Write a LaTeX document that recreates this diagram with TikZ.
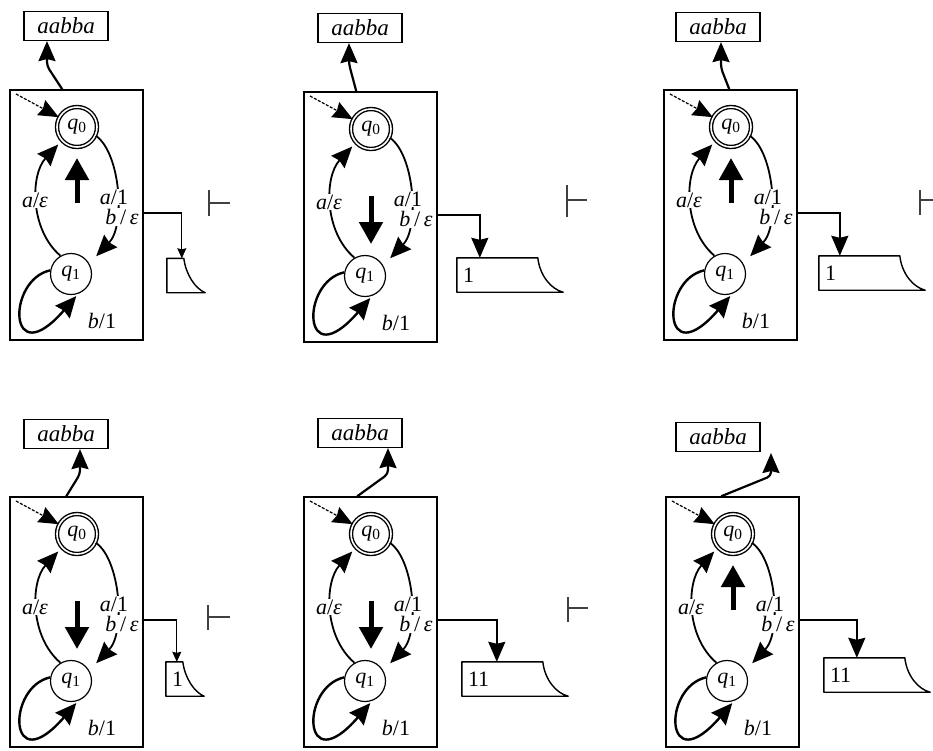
\documentclass[tikz,border=0pt]{standalone}
\usepackage{fontspec}
\setmainfont{Liberation Serif}
\usetikzlibrary{arrows.meta,calc}
\newcommand\labfont{\fontsize{22}{24}\selectfont}
\newcommand\infont{\fontsize{23}{25}\selectfont}
\newcommand\tapefont{\fontsize{22}{24}\selectfont}
\tikzset{
  machine/.style={draw, line width=1.5pt, minimum width=133pt, minimum height=250pt, inner sep=0pt},
  acc/.style={circle, draw, double, double distance=1.6pt, line width=1.4pt, minimum size=40pt, inner sep=0pt, font=\labfont},
  st/.style={circle, draw, line width=1.2pt, minimum size=41pt, inner sep=0pt, font=\labfont},
  tr/.style={line width=1.8pt, -{Stealth[length=21pt,width=18pt,inset=2pt]}},
  looparr/.style={line width=2.4pt, -{Stealth[length=21pt,width=19pt,inset=2pt]}},
  initarr/.style={line width=1.2pt, dash pattern=on 3pt off 1.5pt, -{Stealth[length=20pt,width=17pt,inset=2pt]}},
  bighead/.style={line width=5pt, -{Triangle[length=22pt,width=23pt]}},
  inarr/.style={line width=2.2pt, rounded corners=4pt, -{Stealth[length=20pt,width=17pt,inset=2pt]}},
  outthick/.style={line width=1.8pt, -{Stealth[length=20pt,width=17pt,inset=2pt]}},
  outthin/.style={line width=1.1pt, -{Stealth[length=10pt,width=9pt,inset=1pt]}},
  lbl/.style={fill=white, inner sep=1pt, font=\labfont},
  inbox/.style={draw, line width=1.2pt, minimum width=84pt, minimum height=29pt, inner sep=1pt, font=\infont},
  tapebox/.style={minimum height=34pt, inner xsep=6pt, inner ysep=0pt, text width=#1, font=\tapefont},
  tapeline/.style={line width=1.4pt, line join=round},
  turn/.style={line width=1.4pt, black!75}
}
% core automaton: #1 prefix, #2 x, #3 y, #4 big arrow start y, #5 big arrow end y
\newcommand\fsm[5]{%
\begin{scope}[shift={(#2,#3)}]
 \node[machine] (#1m) at (66.5,125) {};
 \node[acc] (#1q0) at (67,37) {\textit{q}\textsubscript{0}};
 \node[st] (#1q1) at (61,184) {\textit{q}\textsubscript{1}};
 \coordinate (#1i) at (6,4);
 \draw[initarr] (#1i) -- (#1q0);
 \draw[tr, shorten >=5pt] (#1q1.120) .. controls (20,140) and (20,85) .. (#1q0.222);
 \draw[tr, shorten >=10pt] (#1q0.-25) .. controls (110,62) and (116,135) .. (#1q1.30);
 \draw[looparr, shorten >=3pt] (#1q1.170) .. controls (-4,190) and (-2,285) .. (#1q1.-70);
 \node[lbl] (#1la) at (25,110) {\textit{a}/\textit{ε}};
 \node[lbl] (#1lb) at (104,107) {\textit{a}/1};
 \node[lbl] (#1lc) at (112,127) {\textit{b}\,/\,\textit{ε}};
 \node[lbl] (#1ld) at (92,231) {\textit{b}/1};
 \coordinate (#1hs) at (67,#4);
 \coordinate (#1he) at (67,#5);
 \draw[bighead] (#1hs) -- (#1he);
 \coordinate (#1o) at (133,123);
\end{scope}}
\newcommand\narrowtape[1]{\draw[tapeline] (#1.north west) -- ++(17,0) .. controls +(2,16) and +(-10,-4) .. (#1.south east) -- (#1.south west) -- cycle;}
\newcommand\widetape[1]{\draw[tapeline] (#1.north west) -- ++(81,0) .. controls +(2,18) and +(-12,-3) .. (#1.south east) -- (#1.south west) -- cycle;}
\newcommand\turnst[5]{\draw[turn] (#1,#2) -- (#1,#3); \draw[turn] (#1,#4) -- (#5,#4);}
\begin{document}
\begin{tikzpicture}[x=1pt,y=-1pt]
\useasboundingbox (0,0) rectangle (933,750);
% ---------- panel 1
\fsm{a}{10}{90}{113}{68}
\node[inbox] (ain) at (66,26) {\textit{aabba}};
\coordinate (ab) at (47,66);
\draw[inarr] ($(am.north west)+(53,0)$) -- (ab) -- (ab |- ain.south);
\node[tapebox=26pt] (at) at (186,275.5) {};
\narrowtape{at}
\draw[outthin] (ao) -| ($(at.north west)+(15,0)$);
\turnst{209}{190}{216}{203}{230}
% ---------- panel 2
\fsm{b}{304}{92}{104}{152}
\node[inbox] (bin) at (360,28) {\textit{aabba}};
\coordinate (bb) at (349,64);
\draw[inarr] ($(bm.north west)+(53,0)$) -- (bb) -- (bb |- bin.south);
\node[tapebox=94pt] (bt) at (510,275) {1};
\widetape{bt}
\draw[outthick] (bo) -| ($(bt.north west)+(23,0)$);
\turnst{567}{185}{217}{200}{587}
% ---------- panel 3
\fsm{c}{664}{90}{113}{68}
\node[inbox] (cin) at (718,27) {\textit{aabba}};
\coordinate (cb) at (721,68);
\draw[inarr] ($(cm.north west)+(66,0)$) -- (cb) -- (cb |- cin.south);
\node[tapebox=94pt] (ct) at (872,273) {1};
\widetape{ct}
\draw[outthick] (co) -| ($(ct.north west)+(21,0)$);
\turnst{920}{190}{215}{200}{933}
% ---------- panel 4
\fsm{d}{10}{497}{104}{152}
\node[inbox] (din) at (66,434) {\textit{aabba}};
\coordinate (db) at (80,474);
\draw[inarr] ($(dm.north west)+(57,0)$) -- (db) -- (db |- din.south);
\node[tapebox=26pt] (dt) at (185,679) {1};
\narrowtape{dt}
\draw[outthin] (do) -| ($(dt.north west)+(11,0)$);
\turnst{208}{605}{630}{617}{230}
% ---------- panel 5
\fsm{e}{304}{497}{104}{152}
\node[inbox] (ein) at (360,433) {\textit{aabba}};
\coordinate (eb) at (388,474);
\draw[inarr] ($(em.north west)+(54,0)$) -- (eb) -- (eb |- ein.south);
\node[tapebox=94pt] (et) at (515,679) {11};
\widetape{et}
\draw[outthick] (eo) -| ($(et.north west)+(35,0)$);
\turnst{568}{597}{622}{608}{588}
% ---------- panel 6
\fsm{f}{666}{497}{113}{68}
\node[inbox] (fin) at (718,437) {\textit{aabba}};
\coordinate (fb) at (771,476);
\coordinate (ftip) at (771,453);
\draw[inarr] ($(fm.north west)+(56,0)$) -- (fb) -- (ftip);
\node[tapebox=94pt] (ft) at (877,675) {11};
\widetape{ft}
\draw[outthick] (fo) -| ($(ft.north west)+(33,0)$);
\end{tikzpicture}
\end{document}
